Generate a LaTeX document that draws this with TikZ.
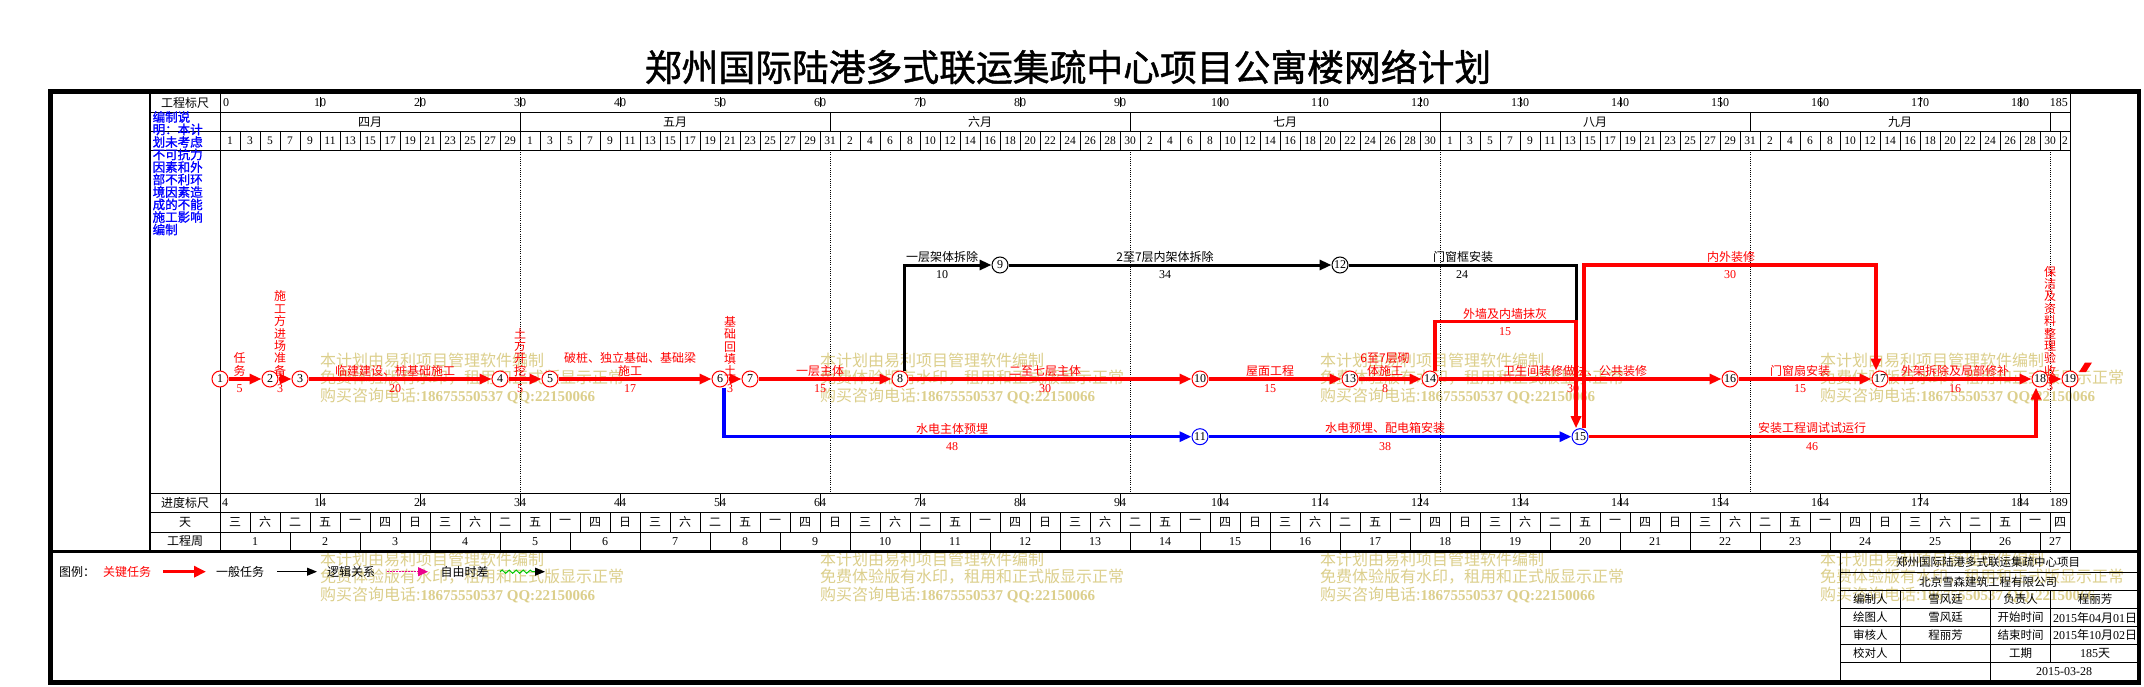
\documentclass[tikz,border=0pt]{standalone}
\usepackage{fontspec}
\setmainfont{Liberation Serif}
\newfontfamily\cjk{Noto Sans CJK SC}
\newfontfamily\cjkb[FakeBold=1.2]{Noto Sans CJK SC}
\usetikzlibrary{arrows.meta,decorations.pathmorphing}
\definecolor{wmcol}{RGB}{220,207,140}
\definecolor{snakegreen}{RGB}{0,200,0}
\newcommand\fz[1]{\fontsize{#1}{#1}\selectfont}
\newcommand\wkday[1]{\ifcase#1 三\or 六\or 二\or 五\or 一\or 四\or 日\fi}
\begin{document}
\begin{tikzpicture}[x=1pt,y=-1pt,
  txt/.style={inner sep=0pt, font=\cjk\fz{12}},
  num/.style={inner sep=0pt, font=\fz{12}},
  dnum/.style={inner sep=0pt, font=\fz{11.5}},
  rl/.style={txt, text=red, anchor=south},
  kl/.style={txt, text=black, anchor=south},
  vl/.style={rl, align=center, font=\cjk\fontsize{12}{12.4}\selectfont},
  rd/.style={num, text=red},
  kd/.style={num, text=black},
  nd/.style={circle, draw, line width=1pt, minimum size=16pt, inner sep=0pt, fill=white, font=\fz{12}},
  rn/.style={nd, draw=red},
  bn/.style={nd, draw=blue},
  kn/.style={nd, draw=black},
  arrowtipx/.style={-{Triangle[length=12pt,width=10pt]}},
  crit/.style={draw=red, line width=3.4pt, arrowtipx},
  kline/.style={draw=black, line width=3pt, arrowtipx},
  kplain/.style={draw=black, line width=3pt},
  bline/.style={draw=blue, line width=3.2pt, arrowtipx},
  gridln/.style={line width=0.9pt},
  mdot/.style={line width=0.8pt, dash pattern=on 1pt off 1.2pt},
  wmk/.style={inner sep=0pt, anchor=west, text=wmcol, font=\cjk\fz{16}},
  tb/.style={inner sep=0pt, font=\cjk\fz{11.5}},
]
\useasboundingbox (0,0) rectangle (2144,687);
\fill[white] (0,0) rectangle (2144,687);

% ---------- title
\node[inner sep=0pt, font=\cjkb\fz{36.8}] (title) at (1068,67) {郑州国际陆港多式联运集疏中心项目公寓楼网络计划};

% ---------- watermarks
\foreach \wx in {320,820,1320,1820}{
  \foreach \wy [count=\q] in {360,559}{
    \node[wmk] (wa\wx\q) at (\wx,\wy) {本计划由易利项目管理软件编制};
    \node[wmk] (wb\wx\q) at (\wx,\wy+17.7) {免费体验版有水印，租用和正式版显示正常};
    \node[wmk] (wc\wx\q) at (\wx,\wy+35.5) {购买咨询电话:{\rmfamily\bfseries\fz{15}18675550537 QQ:22150066}};
  }
}

% ---------- grid lines
\draw[line width=2pt] (150,91) -- (150,551.7);
\draw[gridln] (220,91) -- (220,551.7);
\draw[gridln] (2070,91) -- (2070,551.7);
\foreach \yy in {112,131,150,493,512,532} \draw[gridln] (150,\yy) -- (2070,\yy);
\foreach \mx in {520,830,1130,1440,1750,2050} {
  \draw[gridln] (\mx,112) -- (\mx,131);
  \draw[mdot] (\mx,150) -- (\mx,493);
}
\foreach \k in {1,...,92} \draw[gridln] (220+20*\k,131) -- (220+20*\k,150);
\foreach \i in {1,...,61} \draw[gridln] (220+30*\i,512) -- (220+30*\i,532);
\foreach \j in {1,...,26} \draw[gridln] (220+70*\j,532) -- (220+70*\j,551.7);

% ---------- label column
\node[txt] (lab1) at (185,102.5) {工程标尺};
\node[txt] (lab2) at (185,502.5) {进度标尺};
\node[txt] (lab3) at (185,522) {天};
\node[txt] (lab4) at (185,541.5) {工程周};
\foreach \s [count=\i from 0] in {编制说,明：本计,划未考虑,不可抗力,因素和外,部不利环,境因素造,成的不能,施工影响,编制}
  \node[inner sep=0pt, anchor=west, text=blue, font=\cjkb\fz{12.5}] (bt\i) at (152.5,117+12.5*\i) {\s};

% ---------- top scale
\node[num, anchor=west] (s0) at (223,102.5) {0};
\foreach \k in {1,...,18}{
  \draw[gridln] (220+100*\k,97) -- (220+100*\k,107);
  \pgfmathtruncatemacro\lab{10*\k}
  \node[num] (s\k) at (220+100*\k,102.5) {\lab};
}
\node[num, anchor=east] (s185) at (2068,102.5) {185};

% ---------- months
\node[txt] (m4) at (370,122) {四月};
\node[txt] (m5) at (675,122) {五月};
\node[txt] (m6) at (980,122) {六月};
\node[txt] (m7) at (1285,122) {七月};
\node[txt] (m8) at (1595,122) {八月};
\node[txt] (m9) at (1900,122) {九月};

% ---------- day row
\foreach \k in {0,...,14}{\pgfmathtruncatemacro\lab{2*\k+1}\node[dnum] (da\k) at (230+20*\k,140.5) {\lab};}
\foreach \k in {0,...,15}{\pgfmathtruncatemacro\lab{2*\k+1}\node[dnum] (db\k) at (530+20*\k,140.5) {\lab};}
\foreach \k in {0,...,14}{\pgfmathtruncatemacro\lab{2*\k+2}\node[dnum] (dc\k) at (850+20*\k,140.5) {\lab};}
\foreach \k in {0,...,14}{\pgfmathtruncatemacro\lab{2*\k+2}\node[dnum] (dd\k) at (1150+20*\k,140.5) {\lab};}
\foreach \k in {0,...,15}{\pgfmathtruncatemacro\lab{2*\k+1}\node[dnum] (de\k) at (1450+20*\k,140.5) {\lab};}
\foreach \k in {0,...,14}{\pgfmathtruncatemacro\lab{2*\k+2}\node[dnum] (df\k) at (1770+20*\k,140.5) {\lab};}
\node[dnum] (dg0) at (2065,140.5) {2};

% ---------- bottom scale
\node[num, anchor=west] (p0) at (222,502.5) {4};
\foreach \k in {1,...,18}{
  \draw[gridln] (220+100*\k,493) -- (220+100*\k,506);
  \pgfmathtruncatemacro\lab{10*\k+4}
  \node[num] (p\k) at (220+100*\k,502.5) {\lab};
}
\node[num, anchor=east] (p189) at (2068,502.5) {189};
\foreach \i in {0,...,60}{
  \pgfmathtruncatemacro\m{mod(\i,7)}
  \node[txt] (w\i) at (235+30*\i,522) {\wkday{\m}};
}
\node[txt] (w61) at (2060,522) {四};
\foreach \j in {0,...,25}{
  \pgfmathtruncatemacro\lab{\j+1}
  \node[num] (wk\j) at (255+70*\j,541.5) {\lab};
}
\node[num] (wk26) at (2055,541.5) {27};

% ---------- network nodes
\node[rn] (n1) at (220,379) {1};
\node[rn] (n2) at (270,379) {2};
\node[rn] (n3) at (300,379) {3};
\node[rn] (n4) at (500,379) {4};
\node[rn] (n5) at (550,379) {5};
\node[rn] (n6) at (720,379) {6};
\node[rn] (n7) at (750,379) {7};
\node[rn] (n8) at (900,379) {8};
\node[kn] (n9) at (1000,265) {9};
\node[rn] (n10) at (1200,379) {10};
\node[bn] (n11) at (1200,436.7) {11};
\node[kn] (n12) at (1340,265) {12};
\node[rn] (n13) at (1350,379) {13};
\node[rn] (n14) at (1430,379) {14};
\node[bn] (n15) at (1580,436.7) {15};
\node[rn] (n16) at (1730,379) {16};
\node[rn] (n17) at (1880,379) {17};
\node[rn] (n18) at (2040,379) {18};
\node[rn] (n19) at (2070,379) {19};

% ---------- connectors
\draw[crit] (n1) -- (n2);
\draw[crit] (n2) -- (n3);
\draw[crit] (n3) -- (n4);
\draw[crit] (n4) -- (n5);
\draw[crit] (n5) -- (n6);
\draw[crit] (n6) -- (n7);
\draw[crit] (n7) -- (n8);
\draw[crit] (n8) -- (n10);
\draw[crit] (n10) -- (n13);
\draw[crit] (n13) -- (n14);
\draw[crit] (n14) -- (n16);
\draw[crit] (n16) -- (n17);
\draw[crit] (n17) -- (n18);
\draw[crit] (n18) -- (n19);
\draw[kline] ([xshift=4pt]n8.north) |- (n9);
\draw[kline] (n9) -- (n12);
\coordinate (c1) at (1576,321.7);
\draw[kplain] (n12) -| (c1);
\draw[crit] ([xshift=5pt]n14.north) |- (c1) -- ([xshift=-4pt]n15.north);
\coordinate (c2) at (1584,265);
\draw[crit] ([xshift=4pt]n15.north) -- (c2) -| ([xshift=-4pt]n17.north);
\draw[bline] ([xshift=4pt]n6.south) |- (n11);
\draw[bline] (n11) -- (n15);
\draw[crit] (n15) -| ([xshift=-4pt]n18.south);
\fill[red] (2079,372) -- (2085,362.5) -- (2092,362.5) -- (2086,372) -- cycle;

% ---------- activity labels
\node[vl] (t1) at (239.5,376.5) {任\\务};
\node[rd] (d1) at (239.5,389) {5};
\node[vl] (t2) at (280,376.5) {施\\工\\方\\进\\场\\准\\备};
\node[rd] (d2) at (280,389) {3};
\node[rl] (t3) at (395,376.5) {临建建设、桩基础施工};
\node[rd] (d3) at (395,389) {20};
\node[vl] (t4) at (520,376.5) {土\\方\\开\\挖};
\node[rd] (d4) at (520,389) {5};
\node[vl] (t5) at (630,376.5) {破桩、独立基础、基础梁\\施工};
\node[rd] (d5) at (630,389) {17};
\node[vl] (t6) at (730,376.5) {基\\础\\回\\填\\土};
\node[rd] (d6) at (730,389) {3};
\node[rl] (t7) at (820,376.5) {一层主体};
\node[rd] (d7) at (820,389) {15};
\node[rl] (t8) at (1045,376.5) {二至七层主体};
\node[rd] (d8) at (1045,389) {30};
\node[rl] (t9) at (1270,376.5) {屋面工程};
\node[rd] (d9) at (1270,389) {15};
\node[vl] (t10) at (1385,376.5) {6至7层砌\\体施工};
\node[rd] (d10) at (1385,389) {8};
\node[rl] (t11) at (1575,376.5) {卫生间装修做法、公共装修};
\node[rd] (d11) at (1573,389) {30};
\node[rl] (t12) at (1800,376.5) {门窗扇安装};
\node[rd] (d12) at (1800,389) {15};
\node[rl] (t13) at (1955,376.5) {外架拆除及局部修补};
\node[rd] (d13) at (1955,389) {16};
\node[vl] (t14) at (2050,376.5) {保\\洁\\及\\资\\料\\整\\理\\验\\收};
\node[rd] (d14) at (2050,387) {3};
\node[kl] (t15) at (942,262.5) {一层架体拆除};
\node[kd] (d15) at (942,275) {10};
\node[kl] (t16) at (1165,262.5) {2至7层内架体拆除};
\node[kd] (d16) at (1165,275) {34};
\node[kl] (t17) at (1463,262.5) {门窗框安装};
\node[kd] (d17) at (1462,275) {24};
\node[rl] (t18) at (1505,319.2) {外墙及内墙抹灰};
\node[rd] (d18) at (1505,331.7) {15};
\node[rl] (t19) at (1731,262.5) {内外装修};
\node[rd] (d19) at (1730,275) {30};
\node[rl] (t20) at (952,434.2) {水电主体预埋};
\node[rd] (d20) at (952,446.7) {48};
\node[rl] (t21) at (1385,434.2) {水电预埋、配电箱安装};
\node[rd] (d21) at (1385,446.7) {38};
\node[rl] (t22) at (1812,434.2) {安装工程调试试运行};
\node[rd] (d22) at (1812,446.7) {46};

% ---------- legend
\node[txt] (lg0) at (77,571.7) {图例：};
\node[txt, text=red] (lg1) at (127,571.7) {关键任务};
\coordinate (la1) at (163,571.7); \coordinate (la2) at (206,571.7);
\draw[draw=red, line width=3.3pt, -{Triangle[length=12pt,width=11pt]}] (la1) -- (la2);
\node[txt] (lg2) at (240,571.7) {一般任务};
\coordinate (lb1) at (277,571.7); \coordinate (lb2) at (317,571.7);
\draw[line width=1pt, -{Triangle[length=10pt,width=8pt]}] (lb1) -- (lb2);
\node[txt] (lg3) at (351,571.7) {逻辑关系};
\coordinate (lc1) at (387,571.7); \coordinate (lc2) at (428,571.7);
\draw[draw=magenta, line width=1pt, dash pattern=on 1.5pt off 1.5pt, -{Triangle[length=10pt,width=9pt,fill=magenta]}] (lc1) -- (lc2);
\node[txt] (lg4) at (464.5,571.7) {自由时差};
\coordinate (ld1) at (500,571.7); \coordinate (ld2) at (535,571.7); \coordinate (ld3) at (545,571.7);
\draw[draw=snakegreen, line width=1pt, decorate, decoration={snake, amplitude=1.6pt, segment length=7pt}] (ld1) -- (ld2);
\draw[line width=1pt, -{Triangle[length=10pt,width=8pt]}] (ld2) -- (ld3);

% ---------- info table
\draw[gridln] (1840,551.7) -- (1840,682);
\foreach \yy in {572.7,590.7,608.3,626.7,644,662.3} \draw[gridln] (1840,\yy) -- (2139,\yy);
\draw[gridln] (1900.7,590.7) -- (1900.7,662.3);
\draw[gridln] (2050.7,590.7) -- (2050.7,662.3);
\draw[gridln] (1990.7,590.7) -- (1990.7,682);
\node[tb] (i1) at (1988,562.2) {郑州国际陆港多式联运集疏中心项目};
\node[tb] (i2) at (1988,581.7) {北京雪森建筑工程有限公司};
\node[tb] (i31) at (1870.3,599.5) {编制人};
\node[tb] (i32) at (1945.7,599.5) {雪风廷};
\node[tb] (i33) at (2020.7,599.5) {负责人};
\node[tb] (i34) at (2095,599.5) {程丽芳};
\node[tb] (i41) at (1870.3,617.5) {绘图人};
\node[tb] (i42) at (1945.7,617.5) {雪风廷};
\node[tb] (i43) at (2020.7,617.5) {开始时间};
\node[tb] (i44) at (2095,617.5) {\rmfamily\fz{12}2015{\cjk 年}04{\cjk 月}01{\cjk 日}};
\node[tb] (i51) at (1870.3,635.4) {审核人};
\node[tb] (i52) at (1945.7,635.4) {程丽芳};
\node[tb] (i53) at (2020.7,635.4) {结束时间};
\node[tb] (i54) at (2095,635.4) {\rmfamily\fz{12}2015{\cjk 年}10{\cjk 月}02{\cjk 日}};
\node[tb] (i61) at (1870.3,653.2) {校对人};
\node[tb] (i63) at (2020.7,653.2) {工期};
\node[tb] (i64) at (2095,653.2) {\rmfamily\fz{12}185{\cjk 天}};
\node[num] (i74) at (2064,672) {2015-03-28};

% ---------- frame
\draw[line width=2.5pt] (50,551.7) -- (2139,551.7);
\draw[line width=4.5pt] (50.5,91.3) rectangle (2139,682.5);
\end{tikzpicture}
\end{document}
